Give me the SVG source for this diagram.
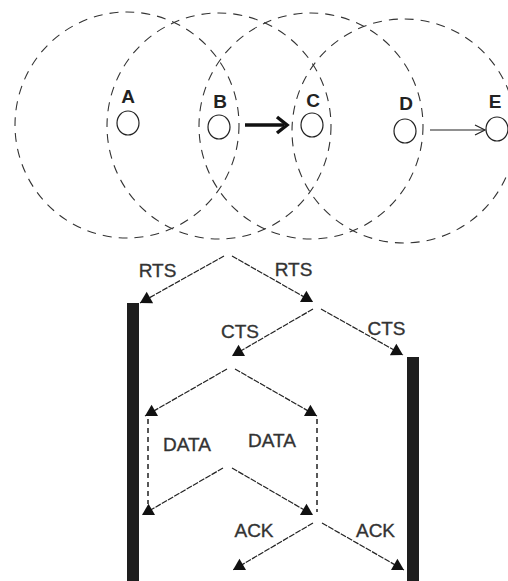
<svg xmlns="http://www.w3.org/2000/svg" width="508" height="581" viewBox="0 0 508 581">
<style>
.range{fill:none;stroke:#333;stroke-width:1.1;stroke-dasharray:9 7}
.node{fill:none;stroke:#222;stroke-width:1.2}
.nlab{font-family:"Liberation Sans",Arial,sans-serif;font-weight:bold;font-size:19px;fill:#222;text-anchor:middle}
.msg{font-family:"Liberation Sans",Arial,sans-serif;font-size:19px;fill:#333;stroke:#333;stroke-width:0.35;text-anchor:middle}
.arr{fill:none;stroke:#222;stroke-width:1.2;stroke-dasharray:6 1.2;marker-end:url(#tri)}
.wait{fill:none;stroke:#222;stroke-width:1.5;stroke-dasharray:5 4}
.bar{fill:#1e1e1e}
</style>
<defs>
<marker id="tri" markerUnits="userSpaceOnUse" markerWidth="14" markerHeight="14" refX="12" refY="7" orient="auto" viewBox="0 0 14 14">
<path d="M12,7 L0.7,0.5 L0.7,13.5 Z" fill="#111"/>
</marker>
</defs>
<rect width="508" height="581" fill="#fff"/>
<g id="ranges">
<ellipse class="range" cx="127" cy="125" rx="112" ry="113"/>
<ellipse class="range" cx="219" cy="126" rx="112" ry="113"/>
<ellipse class="range" cx="311" cy="126" rx="112" ry="113"/>
<ellipse class="range" cx="404" cy="131" rx="112" ry="112"/>
</g>
<g id="node-A"><ellipse class="node" cx="128" cy="123" rx="11" ry="12"/><text class="nlab" x="128" y="103">A</text></g>
<g id="node-B"><ellipse class="node" cx="219" cy="127" rx="11" ry="12"/><text class="nlab" x="220" y="108">B</text></g>
<g id="node-C"><ellipse class="node" cx="312" cy="125" rx="11" ry="12"/><text class="nlab" x="313" y="107">C</text></g>
<g id="node-D"><ellipse class="node" cx="405" cy="131" rx="11" ry="12"/><text class="nlab" x="406" y="110">D</text></g>
<g id="node-E"><ellipse class="node" cx="497" cy="129" rx="11" ry="12"/><text class="nlab" x="495" y="108">E</text></g>
<g id="bars">
<rect id="bar-left" class="bar" x="127" y="303" width="12" height="278"/>
<rect id="bar-right" class="bar" x="407" y="357" width="12" height="224"/>
</g>
<g id="connectors">
<line x1="245" y1="125" x2="284" y2="125" stroke="#111" stroke-width="3.5"/>
<polyline points="277,117 287,125 277,133" fill="none" stroke="#111" stroke-width="3.5"/>
<line x1="430" y1="130" x2="484" y2="130" stroke="#222" stroke-width="1.2"/>
<polyline points="475,125 485,130 475,135" fill="none" stroke="#222" stroke-width="1.2"/>
<line class="arr" x1="224" y1="256" x2="140" y2="303"/>
<line class="arr" x1="232" y1="256" x2="313" y2="302"/>
<line class="arr" x1="313" y1="309" x2="232" y2="356"/>
<line class="arr" x1="321" y1="309" x2="403" y2="355"/>
<line class="arr" x1="227" y1="369" x2="145" y2="416"/>
<line class="arr" x1="235" y1="369" x2="317" y2="416"/>
<line class="wait" x1="148" y1="419" x2="148" y2="504"/>
<line class="wait" x1="317" y1="419" x2="317" y2="512"/>
<line class="arr" x1="223" y1="468" x2="142" y2="515"/>
<line class="arr" x1="232" y1="468" x2="313" y2="515"/>
<line class="arr" x1="313" y1="523" x2="233" y2="570"/>
<line class="arr" x1="322" y1="523" x2="404" y2="570"/>
</g>
<g id="labels">
<text class="msg" x="157.5" y="277">RTS</text>
<text class="msg" x="293.5" y="276">RTS</text>
<text class="msg" x="240" y="338">CTS</text>
<text class="msg" x="386.5" y="335">CTS</text>
<text class="msg" x="187" y="451">DATA</text>
<text class="msg" x="272" y="447">DATA</text>
<text class="msg" x="254" y="537">ACK</text>
<text class="msg" x="375.5" y="537">ACK</text>
</g>
</svg>
